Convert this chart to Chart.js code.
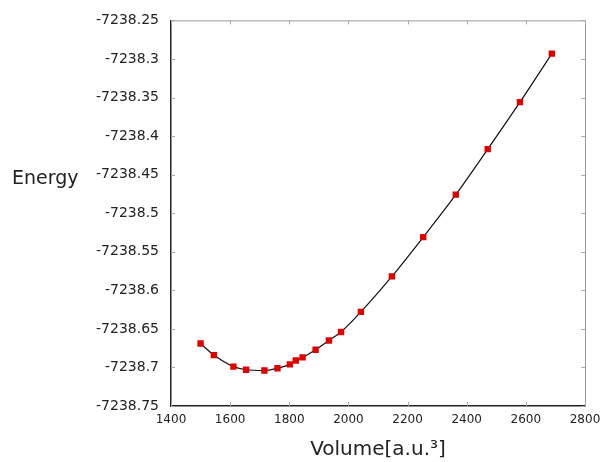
<!DOCTYPE html>
<html>
<head>
<meta charset="utf-8">
<script src="https://cdn.jsdelivr.net/npm/chart.js@4"></script>
<style>
  html, body { margin: 0; padding: 0; background: #fff; }
  #wrap { width: 608px; height: 462px; }
</style>
</head>
<body>
<div id="wrap"><canvas id="eosChart" width="608" height="462"></canvas></div>
<script>
// volume in a.u.^3, energy in Ry
const volumes = [1500, 1545, 1611, 1654, 1716, 1760, 1802, 1822, 1845, 1889, 1934, 1975, 2042, 2147, 2253, 2363, 2471, 2580, 2688];
const energies = [-7238.669, -7238.684, -7238.699, -7238.703, -7238.704, -7238.701, -7238.696, -7238.691, -7238.687,
                  -7238.677, -7238.665, -7238.654, -7238.628, -7238.582, -7238.531, -7238.476, -7238.417, -7238.356, -7238.293];
const xRange = [1400, 2800];
const yRange = [-7238.75, -7238.25];

const points = volumes.map((v, i) => ({ x: v, y: energies[i] }));

// inside tick marks + grey top/right frame
const frame = {
    id: 'frame',
    afterDraw(chart) {
        const { ctx, chartArea: a, scales } = chart;
        ctx.save();
        ctx.strokeStyle = '#999';
        ctx.lineWidth = 1;
        ctx.beginPath();
        ctx.moveTo(a.left, a.top + 0.5);
        ctx.lineTo(a.right + 0.5, a.top + 0.5);
        ctx.lineTo(a.right + 0.5, a.bottom);
        ctx.stroke();
        ctx.strokeStyle = '#aaa';
        ctx.beginPath();
        scales.x.ticks.forEach(t => {
            const px = Math.round(scales.x.getPixelForValue(t.value)) + 0.5;
            ctx.moveTo(px, a.bottom); ctx.lineTo(px, a.bottom - 4);
            ctx.moveTo(px, a.top); ctx.lineTo(px, a.top + 4);
        });
        scales.y.ticks.forEach(t => {
            const py = Math.round(scales.y.getPixelForValue(t.value)) + 0.5;
            ctx.moveTo(a.left, py); ctx.lineTo(a.left + 4, py);
            ctx.moveTo(a.right, py); ctx.lineTo(a.right - 4, py);
        });
        ctx.stroke();
        // horizontal y-axis label
        ctx.fillStyle = '#222';
        ctx.font = '19px "DejaVu Sans"';
        ctx.textBaseline = 'middle';
        ctx.fillText('Energy', 12, 179);
        ctx.restore();
    }
};

const ctx = document.getElementById('eosChart').getContext('2d');
new Chart(ctx, {
    type: 'line',
    data: {
        datasets: [{
            data: points,
            borderColor: '#111',
            borderWidth: 1.2,
            cubicInterpolationMode: 'monotone',
            pointStyle: 'rect',
            pointRadius: 4.5,
            pointBackgroundColor: '#e00000',
            pointBorderColor: '#e00000',
            pointBorderWidth: 0,
            fill: false
        }]
    },
    options: {
        responsive: false,
        animation: false,
        layout: { padding: { top: 20, right: 23, left: 0, bottom: 0 } },
        plugins: { legend: { display: false }, tooltip: { enabled: false } },
        scales: {
            x: {
                type: 'linear',
                min: xRange[0],
                max: xRange[1],
                afterFit(s) { s.height = 56; },
                grid: { display: false, drawTicks: false },
                border: { display: true, color: '#222', width: 1.5 },
                ticks: {
                    stepSize: 200,
                    padding: 7,
                    color: '#222',
                    font: { family: 'DejaVu Sans', size: 12 },
                    callback: v => String(v)
                },
                title: {
                    display: true,
                    text: 'Volume[a.u.³]',
                    color: '#222',
                    font: { family: 'DejaVu Sans', size: 20 },
                    padding: { top: 4, bottom: 0 }
                }
            },
            y: {
                min: yRange[0],
                max: yRange[1],
                afterFit(s) { s.width = 171; },
                grid: { display: false, drawTicks: false },
                border: { display: true, color: '#222', width: 1.5 },
                ticks: {
                    stepSize: 0.05,
                    padding: 12,
                    color: '#222',
                    font: { family: 'DejaVu Sans', size: 14 },
                    callback: v => String(parseFloat(v.toFixed(2)))
                }
            }
        }
    },
    plugins: [frame]
});
</script>
</body>
</html>
